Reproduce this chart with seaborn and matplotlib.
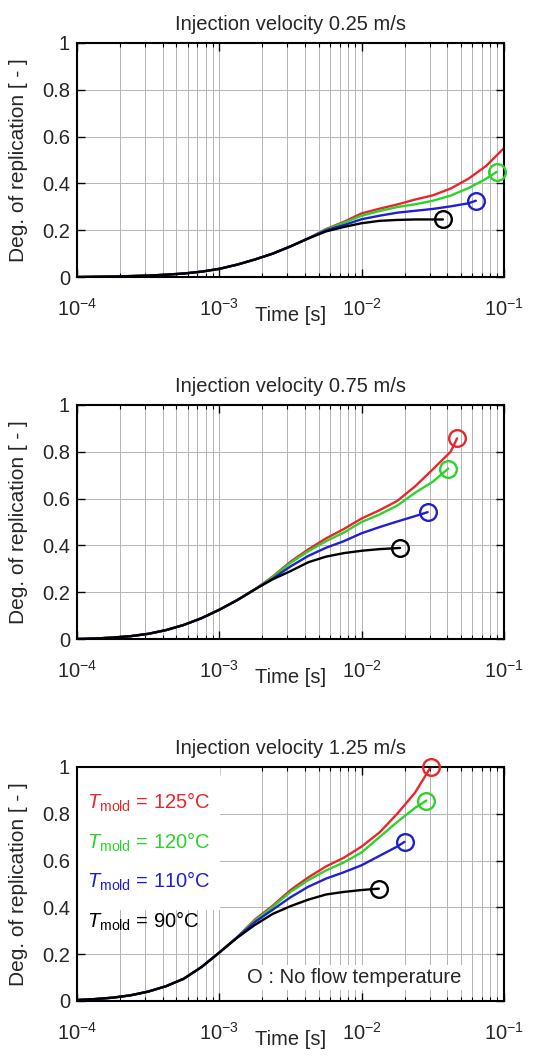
import seaborn as sns
import pandas as pd
import matplotlib.pyplot as plt
from matplotlib.lines import Line2D
from matplotlib.patches import Rectangle
from matplotlib.ticker import LogLocator

# time grid [s], 1/8 decade steps
time_grid = [1.0e-4, 1.334e-4, 1.778e-4, 2.371e-4, 3.162e-4, 4.217e-4, 5.623e-4,
             7.499e-4, 1.0e-3, 1.334e-3, 1.778e-3, 2.371e-3, 3.162e-3, 4.217e-3,
             5.623e-3, 7.499e-3, 1.0e-2, 1.334e-2, 1.778e-2, 2.371e-2, 3.162e-2,
             4.217e-2, 5.623e-2, 7.499e-2, 1.0e-1]

series_names = ['125', '120', '110', '90']   # mold temperature [C]
series_colors = ['#e8262b', '#2ad42a', '#2020d0', '#000000']

# --- injection velocity 0.25 m/s ---
v025_125 = [0.0, 0.001, 0.002, 0.004, 0.006, 0.010, 0.015, 0.023, 0.035, 0.053,
            0.075, 0.100, 0.131, 0.165, 0.205, 0.236, 0.272, 0.292, 0.310, 0.331,
            0.349, 0.378, 0.420, 0.475, 0.551]
v025_120 = [0.0, 0.001, 0.002, 0.004, 0.006, 0.010, 0.015, 0.023, 0.035, 0.053,
            0.075, 0.100, 0.131, 0.165, 0.203, 0.232, 0.262, 0.282, 0.299, 0.311,
            0.326, 0.348, 0.380, 0.420]
v025_110 = [0.0, 0.001, 0.002, 0.004, 0.006, 0.010, 0.015, 0.023, 0.035, 0.053,
            0.075, 0.100, 0.131, 0.165, 0.200, 0.222, 0.247, 0.262, 0.275, 0.283,
            0.291, 0.302, 0.315]
v025_90 = [0.0, 0.001, 0.002, 0.004, 0.006, 0.010, 0.015, 0.023, 0.035, 0.053,
           0.075, 0.100, 0.131, 0.165, 0.195, 0.214, 0.230, 0.240, 0.244, 0.246,
           0.246]
end_t_025 = [None, 0.0887, 0.0634, 0.0372]   # no flow temperature reached
end_v_025 = [None, 0.449, 0.326, 0.246]

# --- injection velocity 0.75 m/s ---
v075_125 = [0.0, 0.002, 0.006, 0.012, 0.022, 0.038, 0.060, 0.089, 0.125, 0.166,
            0.212, 0.267, 0.330, 0.383, 0.430, 0.470, 0.515, 0.550, 0.590, 0.652,
            0.725, 0.800]
v075_120 = [0.0, 0.002, 0.006, 0.012, 0.022, 0.038, 0.060, 0.089, 0.125, 0.166,
            0.212, 0.264, 0.325, 0.375, 0.418, 0.455, 0.500, 0.532, 0.570, 0.625,
            0.672]
v075_110 = [0.0, 0.002, 0.006, 0.012, 0.022, 0.038, 0.060, 0.089, 0.125, 0.166,
            0.212, 0.258, 0.310, 0.355, 0.390, 0.418, 0.452, 0.478, 0.502, 0.525]
v075_90 = [0.0, 0.002, 0.006, 0.012, 0.022, 0.038, 0.060, 0.089, 0.125, 0.166,
           0.212, 0.255, 0.290, 0.328, 0.352, 0.367, 0.377, 0.384]
end_t_075 = [0.0468, 0.0406, 0.0291, 0.0186]
end_v_075 = [0.857, 0.728, 0.542, 0.389]

# --- injection velocity 1.25 m/s ---
v125_125 = [0.004, 0.008, 0.014, 0.024, 0.040, 0.063, 0.095, 0.145, 0.207, 0.272,
            0.348, 0.407, 0.474, 0.528, 0.575, 0.612, 0.660, 0.720, 0.800, 0.890]
v125_120 = [0.004, 0.008, 0.014, 0.024, 0.040, 0.063, 0.095, 0.145, 0.207, 0.272,
            0.343, 0.402, 0.466, 0.516, 0.558, 0.592, 0.635, 0.700, 0.765, 0.825]
v125_110 = [0.004, 0.008, 0.014, 0.024, 0.040, 0.063, 0.095, 0.145, 0.207, 0.272,
            0.337, 0.390, 0.443, 0.488, 0.523, 0.550, 0.580, 0.620, 0.660]
v125_90 = [0.004, 0.008, 0.014, 0.024, 0.040, 0.063, 0.095, 0.145, 0.207, 0.270,
           0.325, 0.372, 0.405, 0.433, 0.455, 0.466, 0.474]
end_t_125 = [0.0306, 0.0284, 0.0200, 0.0132]
end_v_125 = [1.0, 0.856, 0.680, 0.480]

panels = [('Injection velocity 0.25 m/s', [v025_125, v025_120, v025_110, v025_90],
           end_t_025, end_v_025),
          ('Injection velocity 0.75 m/s', [v075_125, v075_120, v075_110, v075_90],
           end_t_075, end_v_075),
          ('Injection velocity 1.25 m/s', [v125_125, v125_120, v125_110, v125_90],
           end_t_125, end_v_125)]

sns.set_theme(style='white')
plt.rcParams['font.family'] = ['Liberation Sans', 'DejaVu Sans']
plt.rcParams['mathtext.fontset'] = 'custom'
plt.rcParams['mathtext.rm'] = 'Liberation Sans'
plt.rcParams['mathtext.it'] = 'Liberation Sans:italic'

fig = plt.figure(figsize=(5.6, 10.59), dpi=100)
ax_pos = [[0.1375, 0.7384, 0.7625, 0.221],
          [0.1375, 0.3966, 0.7625, 0.221],
          [0.1375, 0.0548, 0.7625, 0.221]]
fs = 14.5

for pos, (title, vals, end_t, end_v) in zip(ax_pos, panels):
    ax = fig.add_axes(pos)
    # long-form data: read values + end point (no-flow temperature)
    rows = []
    for name, v, et, ev in zip(series_names, vals, end_t, end_v):
        for t, y in zip(time_grid, v):
            rows.append((name, t, y))
        if et is not None:
            rows.append((name, et, ev))
    df = pd.DataFrame(rows, columns=['T_mold', 'Time', 'Replication'])
    sns.lineplot(data=df, x='Time', y='Replication', hue='T_mold',
                 hue_order=series_names, palette=series_colors,
                 estimator=None, linewidth=1.7, legend=False, ax=ax)
    for c, et, ev in zip(series_colors, end_t, end_v):
        if et is not None:
            ax.plot([et], [ev], 'o', ms=12, mfc='none', mec=c, mew=1.7,
                    clip_on=False, zorder=4)

    ax.set_xscale('log')
    ax.set_xlim(1e-4, 1e-1)
    ax.set_ylim(0, 1)
    ax.set_yticks([0, 0.2, 0.4, 0.6, 0.8, 1.0])
    ax.set_yticklabels(['0', '0.2', '0.4', '0.6', '0.8', '1'])
    ax.xaxis.set_minor_locator(LogLocator(base=10, subs=range(2, 10)))
    ax.grid(True, which='both', color='#b4b4b4', linewidth=0.7)
    ax.set_axisbelow(True)
    ax.tick_params(which='both', direction='in', top=True, right=True,
                   bottom=True, left=True, color='black')
    ax.tick_params(which='major', length=6, width=1.0, labelsize=fs)
    ax.tick_params(which='minor', length=3, width=0.8)
    ax.tick_params(axis='x', which='major', pad=15)
    ax.tick_params(axis='y', which='major', pad=5)
    for s in ax.spines.values():
        s.set_color('black')
        s.set_linewidth(1.5)
    ax.set_title(title, fontsize=fs, pad=9)
    ax.set_xlabel('Time [s]', fontsize=fs)
    ax.set_ylabel('Deg. of replication [ - ]', fontsize=fs + 0.5)
    ax.xaxis.set_label_coords(0.5, -0.125)
    ax.yaxis.set_label_coords(-0.115, 0.5)

# legend and note on the last panel (white patch hides the grid behind it)
ax.add_patch(Rectangle((0, 0.39), 0.335, 0.61, transform=ax.transAxes,
                       facecolor='white', edgecolor='none', zorder=1.5))
handles = [Line2D([], [], color=c) for c in series_colors]
labels = [r'$\mathit{T}_{\mathrm{mold}}$ = ' + n + '°C' for n in series_names]
leg = ax.legend(handles, labels, loc='upper left', bbox_to_anchor=(0.0, 0.94),
                handlelength=0, handletextpad=0, labelcolor='linecolor',
                frameon=False, fontsize=fs, borderaxespad=0, borderpad=0.5,
                labelspacing=0.8)
ax.text(0.65, 0.10, 'O : No flow temperature', transform=ax.transAxes,
        ha='center', va='center', fontsize=fs,
        bbox=dict(facecolor='white', edgecolor='none', pad=2))

fig.savefig('out.png', dpi=100)
